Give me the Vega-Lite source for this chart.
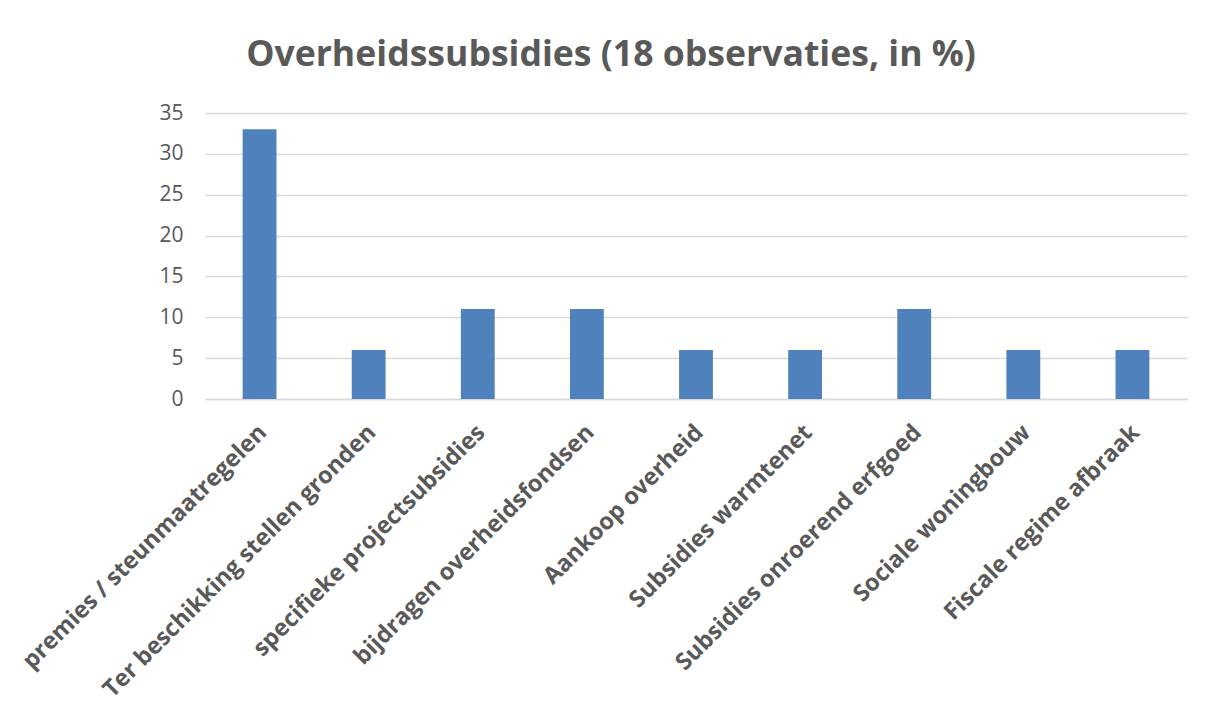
{
  "$schema": "https://vega.github.io/schema/vega-lite/v6.json",
  "width": 982,
  "height": 286,
  "autosize": {"type": "none"},
  "padding": {"left": 205, "top": 113, "right": 25, "bottom": 314},
  "background": "white",
  "title": {
    "text": "Overheidssubsidies (18 observaties, in %)",
    "font": "Open Sans",
    "fontSize": 35.6,
    "fontWeight": "bold",
    "color": "#595959",
    "anchor": "middle",
    "dx": -85,
    "offset": 28
  },
  "data": {
    "values": [
      {"categorie": "premies / steunmaatregelen", "pct": 33},
      {"categorie": "Ter beschikking stellen gronden", "pct": 6},
      {"categorie": "specifieke projectsubsidies", "pct": 11},
      {"categorie": "bijdragen overheidsfondsen", "pct": 11},
      {"categorie": "Aankoop overheid", "pct": 6},
      {"categorie": "Subsidies warmtenet", "pct": 6},
      {"categorie": "Subsidies onroerend erfgoed", "pct": 11},
      {"categorie": "Sociale woningbouw", "pct": 6},
      {"categorie": "Fiscale regime afbraak", "pct": 6}
    ]
  },
  "mark": {"type": "bar", "color": "#4F81BD"},
  "encoding": {
    "x": {
      "field": "categorie",
      "type": "nominal",
      "sort": null,
      "scale": {"paddingInner": 0.69, "paddingOuter": 0.345},
      "axis": {
        "title": null,
        "labelAngle": -45,
        "labelFont": "Open Sans",
        "labelFontSize": 23.5,
        "labelFontWeight": "bold",
        "labelColor": "#595959",
        "labelPadding": 21,
        "labelOffset": -5,
        "ticks": false,
        "domainColor": "#D9D9D9",
        "domainWidth": 1.5,
        "labelLimit": 600
      }
    },
    "y": {
      "field": "pct",
      "type": "quantitative",
      "scale": {"domain": [0, 35]},
      "axis": {
        "title": null,
        "values": [0, 5, 10, 15, 20, 25, 30, 35],
        "labelFont": "Open Sans",
        "labelFontSize": 21,
        "labelColor": "#595959",
        "labelPadding": 22,
        "ticks": false,
        "domain": false,
        "gridColor": "#D9D9D9",
        "gridWidth": 1.5
      }
    }
  },
  "config": {"view": {"stroke": null}}
}
